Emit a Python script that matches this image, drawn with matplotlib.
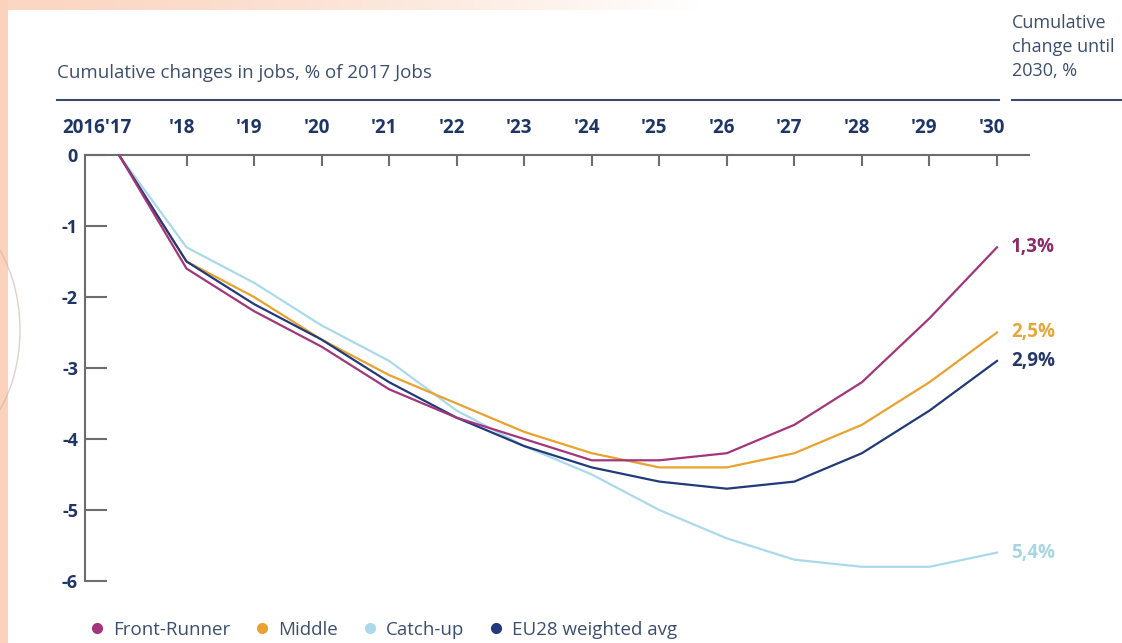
import matplotlib
matplotlib.use("Agg")
import matplotlib.pyplot as plt
import numpy as np
from matplotlib.patches import Rectangle, Arc

# ---- data ----
years = [2017, 2018, 2019, 2020, 2021, 2022, 2023, 2024, 2025, 2026, 2027, 2028, 2029, 2030]
year_labels = ["2016'17", "'18", "'19", "'20", "'21", "'22", "'23", "'24", "'25", "'26", "'27", "'28", "'29", "'30"]
front_runner = [0, -1.6, -2.2, -2.7, -3.3, -3.7, -4.0, -4.3, -4.3, -4.2, -3.8, -3.2, -2.3, -1.3]
middle = [0, -1.5, -2.0, -2.6, -3.1, -3.5, -3.9, -4.2, -4.4, -4.4, -4.2, -3.8, -3.2, -2.5]
catch_up = [0, -1.3, -1.8, -2.4, -2.9, -3.6, -4.1, -4.5, -5.0, -5.4, -5.7, -5.8, -5.8, -5.6]
eu28 = [0, -1.5, -2.1, -2.6, -3.2, -3.7, -4.1, -4.4, -4.6, -4.7, -4.6, -4.2, -3.6, -2.9]
series_names = ["Front-Runner", "Middle", "Catch-up", "EU28 weighted avg"]
end_labels = ["1,3%", "2,5%", "5,4%", "2,9%"]
y_ticks = [0, -1, -2, -3, -4, -5, -6]

colors = {"Front-Runner": "#a2367c", "Middle": "#e9a22f",
          "Catch-up": "#a9d9ea", "EU28 weighted avg": "#223a7a"}
label_colors = {"Front-Runner": "#8e2a6a", "Middle": "#e8a53a",
                "Catch-up": "#a6d6e6", "EU28 weighted avg": "#24386a"}

plt.rcParams['font.family'] = ['Open Sans', 'DejaVu Sans']

W, H = 1122, 643
fig = plt.figure(figsize=(W / 100, H / 100), dpi=100)
fig.patch.set_facecolor("white")

# decorative peach border strips
bg = fig.add_axes([0, 0, 1, 1], zorder=-10)
bg.set_xlim(0, W); bg.set_ylim(H, 0); bg.axis("off")
bg.add_patch(Rectangle((0, 0), 8, H, color="#fbd3bd", lw=0))
top = np.ones((10, 700, 4))
top[..., 0] = 0xfb / 255; top[..., 1] = 0xd6 / 255; top[..., 2] = 0xc2 / 255
top[..., 3] = np.clip(1 - np.linspace(0, 1, 700) ** 1.5, 0, 1)[None, :]
bg.imshow(top, extent=(0, 700, 10, 0), aspect="auto")
bg.add_patch(Arc((-60, 330), 160, 240, theta1=-60, theta2=60, color="#c9b3a6", lw=1, alpha=0.6))
bg.add_patch(Arc((-140, 330), 260, 420, theta1=-40, theta2=40, color="#c9b3a6", lw=1, alpha=0.5))

# main axes
px_per_year = (997 - 119) / 13
x0 = 2017 - (119 - 85) / px_per_year
x1 = 2030 + (1029 - 997) / px_per_year
ax = fig.add_axes([85 / W, 1 - 581 / H, (1029 - 85) / W, (581 - 155) / H])
ax.set_xlim(x0, x1)
ax.set_ylim(-6, 0)
ax.patch.set_alpha(0)

spine_c = "#6d6d6d"
for s in ["right", "bottom"]:
    ax.spines[s].set_visible(False)
for s in ["left", "top"]:
    ax.spines[s].set_color(spine_c)
    ax.spines[s].set_linewidth(1.5)

tick_c = "#1e3566"
ax.xaxis.set_ticks_position("top")
ax.set_xticks(years[1:])
ax.set_xticklabels([])
ax.tick_params(axis="x", direction="in", length=8, width=1.5, color=spine_c)
ax.set_yticks(y_ticks)
ax.set_yticklabels([str(v) for v in y_ticks], fontweight="bold", color=tick_c, fontsize=13)
ax.tick_params(axis="y", direction="in", length=16, width=1.5, color=spine_c, pad=5)

# year labels above top axis
for yr, lab in zip(years, year_labels):
    if yr == years[0]:
        ax.annotate(lab, xy=(yr, 1), xycoords=("data", "axes fraction"),
                    xytext=(13, 27), textcoords="offset pixels", ha="right", va="center",
                    fontsize=13.5, fontweight="bold", color=tick_c)
    else:
        ax.annotate(lab, xy=(yr, 1), xycoords=("data", "axes fraction"),
                    xytext=(-5, 27), textcoords="offset pixels", ha="center", va="center",
                    fontsize=13.5, fontweight="bold", color=tick_c)

data = {"Front-Runner": front_runner, "Middle": middle, "Catch-up": catch_up,
        "EU28 weighted avg": eu28}
order = ["Catch-up", "Middle", "EU28 weighted avg", "Front-Runner"]
for name in order:
    ax.plot(years, data[name], color=colors[name], lw=1.6, solid_joinstyle="round", zorder=3)

for name, lab in zip(series_names, end_labels):
    ax.annotate(lab, xy=(years[-1], data[name][-1]), xytext=(14, 0), textcoords="offset pixels",
                ha="left", va="center", fontsize=13.5, fontweight="bold",
                color=label_colors[name], annotation_clip=False)

# headers
hc = "#3d4f6e"
fig.text(57 / W, 1 - 73 / H, "Cumulative changes in jobs, % of 2017 Jobs",
         ha="left", va="center", fontsize=13.5, color=hc)
fig.text(1012 / W, 1 - 47 / H, "Cumulative\nchange until\n2030, %",
         ha="left", va="center", fontsize=13, color=hc, linespacing=1.45)
bg.plot([57, 999], [100, 100], color="#3b4a68", lw=1.5)
bg.plot([1012, 1122], [100, 100], color="#3b4a68", lw=1.5)

# legend
handles = [plt.Line2D([], [], marker="o", ls="none", color=colors[n], markersize=7) for n in series_names]
fig.legend(handles, series_names, loc="center left", bbox_to_anchor=(88 / W, 1 - 630 / H),
           ncol=4, frameon=False, fontsize=13.5, handletextpad=0.35, columnspacing=1.2,
           handlelength=1.0, labelcolor="#3d4f6e", borderaxespad=0, borderpad=0)

fig.savefig("out.png", dpi=100)
